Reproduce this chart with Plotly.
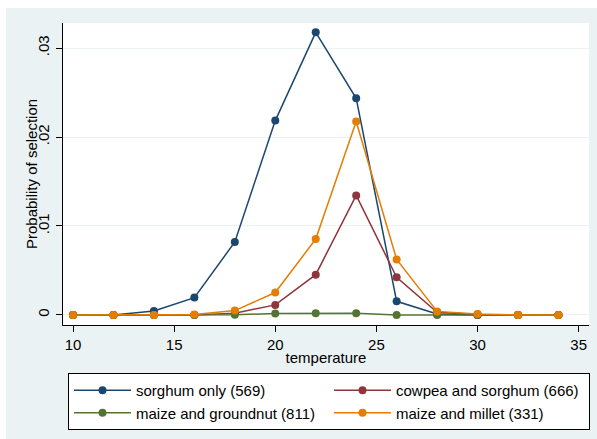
import plotly.graph_objects as go

temperature = [10, 12, 14, 16, 18, 20, 22, 24, 26, 28, 30, 32, 34]
sorghum_only = [0, 0, 0.00045, 0.00195, 0.0082, 0.02185, 0.03177, 0.02435, 0.00153, 0.0001, 0, 0, 0]
cowpea_sorghum = [0, 0, 0, 0, 0.0002, 0.00113, 0.00453, 0.01344, 0.00424, 0.0003, 0.00005, 0, 0]
maize_groundnut = [0, 0, 0, 0, 0.00003, 0.00015, 0.00018, 0.0002, 0, 0, 0, 0, 0]
maize_millet = [0, 0, 0, 0.00005, 0.00049, 0.00252, 0.00853, 0.02174, 0.00624, 0.0004, 0.0001, 0, 0]

series_names = ["sorghum only (569)", "cowpea and sorghum (666)",
                "maize and groundnut (811)", "maize and millet (331)"]
series_values = [sorghum_only, cowpea_sorghum, maize_groundnut, maize_millet]
series_colors = ["#1A476F", "#90353B", "#55752F", "#E37E00"]

x_ticks = [10, 15, 20, 25, 30, 35]
y_ticks = [0, 0.01, 0.02, 0.03]
y_ticktext = ["0", ".01", ".02", ".03"]

FONT = "Liberation Sans, Arial, sans-serif"

fig = go.Figure()
for name, vals, col in zip(series_names, series_values, series_colors):
    fig.add_trace(go.Scatter(
        x=temperature, y=vals, name=name, mode="lines+markers",
        line=dict(color=col, width=1.5),
        marker=dict(color=col, size=8),
    ))

W, H = 597, 439
ml, mr, mt, mb = 63, 8, 23, 114
pw, ph = W - ml - mr, H - mt - mb

def px_x(p):
    return (p - ml) / pw

def px_y(p):
    return 1 - (p - mt) / ph

fig.update_layout(
    width=W, height=H,
    margin=dict(l=ml, r=mr, t=mt, b=mb, autoexpand=False),
    paper_bgcolor="#EAF2F3",
    plot_bgcolor="white",
    font=dict(family=FONT, size=15, color="black"),
    showlegend=True,
    legend=dict(
        orientation="h",
        x=px_x(68), y=px_y(373), xanchor="left", yanchor="top",
        bgcolor="white", bordercolor="black", borderwidth=1,
        font=dict(family=FONT, size=15, color="black"),
        entrywidth=188, entrywidthmode="pixels",
        itemwidth=57,
        traceorder="normal",
    ),
    xaxis=dict(
        range=[9.505, 35.51], tickvals=x_ticks,
        showgrid=False, zeroline=False,
        showline=True, linecolor="black", linewidth=1,
        ticks="outside", ticklen=6, tickcolor="black", tickwidth=1,
        tickfont=dict(family=FONT, size=15),
        title=dict(text="temperature", font=dict(family=FONT, size=15), standoff=0),
    ),
    yaxis=dict(
        range=[-0.00113, 0.03282], tickvals=y_ticks, ticktext=y_ticktext,
        tickangle=-90, ticklabelstandoff=1,
        showgrid=True, gridcolor="#EAF2F3", gridwidth=1,
        zeroline=False,
        showline=True, linecolor="black", linewidth=1,
        ticks="outside", ticklen=6, tickcolor="black", tickwidth=1,
        tickfont=dict(family=FONT, size=15),
    ),
    shapes=[
        dict(type="rect", xref="paper", yref="paper", layer="below",
             x0=px_x(0), x1=px_x(W), y0=px_y(8), y1=px_y(0),
             fillcolor="white", line=dict(width=0)),
        dict(type="rect", xref="paper", yref="paper", layer="below",
             x0=px_x(0), x1=px_x(6), y0=px_y(H), y1=px_y(0),
             fillcolor="white", line=dict(width=0)),
    ],
    annotations=[
        dict(text="(c)", xref="paper", yref="paper", x=px_x(7), y=px_y(2.5),
             xanchor="left", yanchor="bottom", showarrow=False,
             font=dict(family=FONT, size=20, color="black")),
        dict(text="Probability of selection", xref="paper", yref="paper",
             x=px_x(31), y=0.5, xanchor="center", yanchor="middle",
             textangle=-90, showarrow=False,
             font=dict(family=FONT, size=15, color="black")),
    ],
)

fig.write_html("out.html", config={"displayModeBar": False},
               post_script="document.body.style.margin='0';document.body.style.overflow='hidden';")
